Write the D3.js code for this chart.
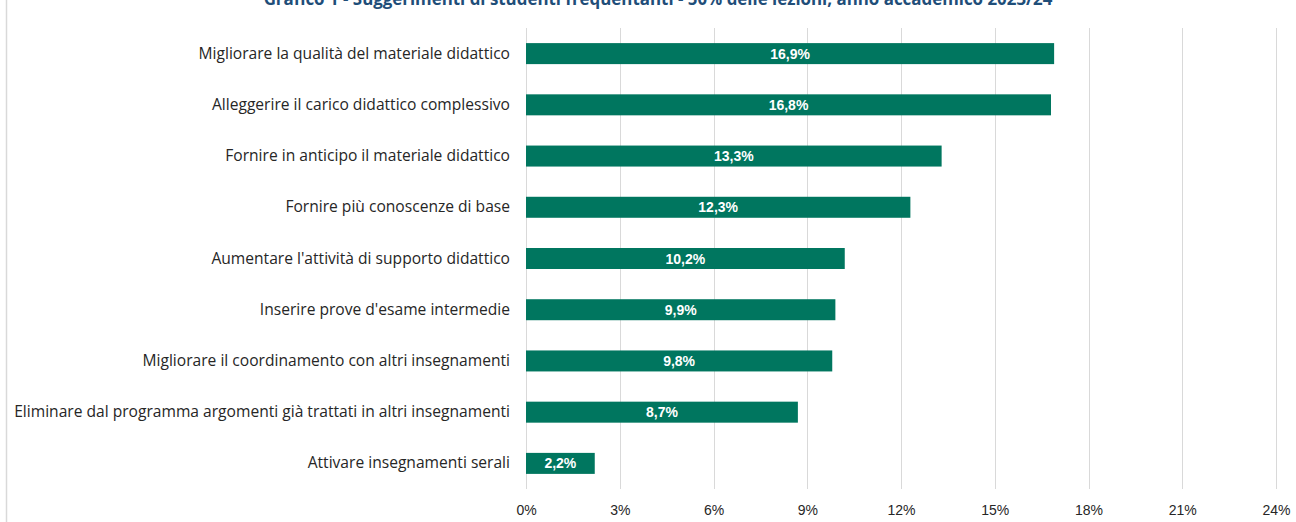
<!DOCTYPE html>
<html><head><meta charset="utf-8">
<script src="https://cdn.jsdelivr.net/npm/d3@7"></script>
<style>
html,body{margin:0;padding:0;background:#fff;}
svg{display:block;}
</style></head>
<body>
<svg id="chart" width="1296" height="522"></svg>
<script>
const title = "Grafico 1 - Suggerimenti di studenti frequentanti - 50% delle lezioni, anno accademico 2023/24";
const categories = [
  "Migliorare la qualità del materiale didattico",
  "Alleggerire il carico didattico complessivo",
  "Fornire in anticipo il materiale didattico",
  "Fornire più conoscenze di base",
  "Aumentare l'attività di supporto didattico",
  "Inserire prove d'esame intermedie",
  "Migliorare il coordinamento con altri insegnamenti",
  "Eliminare dal programma argomenti già trattati in altri insegnamenti",
  "Attivare insegnamenti serali"
];
const values = [16.9, 16.8, 13.3, 12.3, 10.2, 9.9, 9.8, 8.7, 2.2];
const tickValues = [0, 3, 6, 9, 12, 15, 18, 21, 24];

const svg = d3.select("#chart");
const font = "'Open Sans', 'Liberation Sans', Arial, sans-serif";
const fontB = "'Liberation Sans', Arial, sans-serif";

const x = d3.scaleLinear().domain([0, 24]).range([526, 1276]);
const y = d3.scaleBand().domain(categories).range([28, 489]).paddingInner(0.59).paddingOuter(0.295);

// left border
svg.append("line").attr("x1", 6.5).attr("x2", 6.5).attr("y1", 0).attr("y2", 522)
  .attr("stroke", "#d9d9d9").attr("stroke-width", 1.5);

// title (clipped at top, as in the reference)
svg.append("text").attr("x", 658).attr("y", 5).attr("text-anchor", "middle")
  .attr("font-family", font).attr("font-weight", "bold").attr("font-size", 16.9)
  .attr("fill", "#1f4e79").text(title);

// gridlines
svg.append("g").selectAll("line").data(tickValues).join("line")
  .attr("x1", d => Math.round(x(d)) + 0.5).attr("x2", d => Math.round(x(d)) + 0.5)
  .attr("y1", 28).attr("y2", 489)
  .attr("stroke", "#d9d9d9").attr("stroke-width", 1);

// x axis
const xAxis = d3.axisBottom(x).tickValues(tickValues).tickFormat(d => d + "%").tickSize(0).tickPadding(0);
const gx = svg.append("g").attr("transform", "translate(0,510.5)").call(xAxis);
gx.select(".domain").remove();
gx.selectAll("text").attr("font-family", fontB).attr("font-size", 14).attr("fill", "#262626").attr("dy", "0.35em");

// y axis labels
const yAxis = d3.axisLeft(y).tickSize(0).tickPadding(0);
const gy = svg.append("g").attr("transform", "translate(510,0)").call(yAxis);
gy.select(".domain").remove();
gy.selectAll("text").attr("font-family", font).attr("font-size", 15.6).attr("fill", "#262626");

// bars
svg.append("g").selectAll("rect").data(categories).join("rect")
  .attr("x", x(0)).attr("y", d => y(d))
  .attr("width", (d, i) => x(values[i]) - x(0)).attr("height", y.bandwidth())
  .attr("fill", "#00765f");

// value labels
svg.append("g").selectAll("text").data(categories).join("text")
  .attr("x", (d, i) => (x(0) + x(values[i])) / 2)
  .attr("y", d => y(d) + y.bandwidth() / 2).attr("dy", "0.36em")
  .attr("text-anchor", "middle").attr("font-family", fontB).attr("font-weight", "bold")
  .attr("font-size", 14).attr("fill", "#ffffff")
  .text((d, i) => values[i].toFixed(1).replace(".", ",") + "%");
</script>
</body></html>
